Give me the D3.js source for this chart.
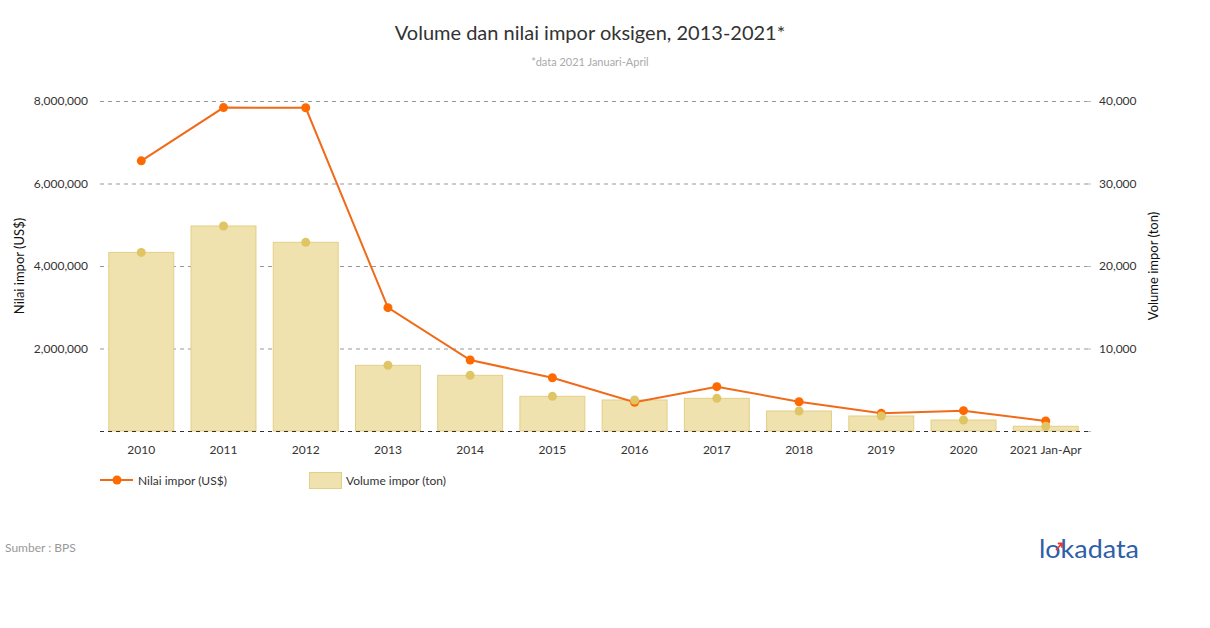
<!DOCTYPE html>
<html><head><meta charset="utf-8">
<script src="https://cdn.jsdelivr.net/npm/d3@7"></script>
<style>body{margin:0;background:#fff}svg{font-family:Lato,"Open Sans",sans-serif}</style>
</head><body>
<svg id="c" width="1210" height="628"></svg>
<script>
const categories = ["2010","2011","2012","2013","2014","2015","2016","2017","2018","2019","2020","2021 Jan-Apr"];
const nilaiImpor = [6550000,7840000,7835000,2990000,1720000,1290000,695000,1075000,710000,428000,493000,242000];
const volumeImpor = [21650,24850,22870,7960,6750,4200,3760,3960,2420,1820,1330,570];
const leftTicks = [2000000,4000000,6000000,8000000];
const rightTicks = [10000,20000,30000,40000];

const svg = d3.select("#c");
const plotTop = 101, plotBottom = 431, plotLeft = 100, plotRight = 1087;
const x = d3.scaleBand().domain(categories).range([plotLeft, plotRight]).paddingInner(0.198).paddingOuter(0.101);
const yL = d3.scaleLinear().domain([0, 8000000]).range([plotBottom, plotTop]);
const yR = d3.scaleLinear().domain([0, 40000]).range([plotBottom, plotTop]);
const fmt = d3.format(",");

// title
svg.append("text").attr("x", 590).attr("y", 40).attr("text-anchor","middle").attr("font-size",20).attr("fill","#333").text("Volume dan nilai impor oksigen, 2013-2021*");
svg.append("text").attr("x", 590).attr("y", 66).attr("text-anchor","middle").attr("font-size",11).attr("fill","#aaa").text("*data 2021 Januari-April");

// gridlines
svg.append("g").selectAll("line").data(leftTicks).join("line")
  .attr("x1", plotLeft).attr("x2", plotRight + 3).attr("y1", d => yL(d) + 0.5).attr("y2", d => yL(d) + 0.5)
  .attr("stroke","#999").attr("stroke-dasharray","4,4").attr("stroke-width",1);

// left axis
const gL = svg.append("g").attr("transform",`translate(${plotLeft},0)`)
  .call(d3.axisLeft(yL).tickValues(leftTicks).tickFormat(fmt).tickSize(0).tickPadding(12));
gL.select(".domain").remove();
gL.selectAll("text").attr("font-size",12).attr("fill","#333").attr("font-family","Lato");

// right axis
const gR = svg.append("g").attr("transform",`translate(${plotRight},0)`)
  .call(d3.axisRight(yR).tickValues([0].concat(rightTicks)).tickFormat(d => d === 0 ? "" : fmt(d)).tickSize(4).tickPadding(8));
gR.select(".domain").remove();
gR.selectAll("line").attr("stroke","#bbb");
gR.selectAll("text").attr("font-size",12).attr("fill","#333").attr("font-family","Lato");

// axis titles
svg.append("text").attr("transform","translate(24,266) rotate(-90)").attr("text-anchor","middle").attr("font-size",13).attr("fill","#111").text("Nilai impor (US$)");
svg.append("text").attr("transform","translate(1158,266) rotate(-90)").attr("text-anchor","middle").attr("font-size",13).attr("fill","#111").text("Volume impor (ton)");

// bars
svg.append("g").selectAll("rect").data(categories).join("rect")
  .attr("x", d => x(d) + 0.5).attr("width", x.bandwidth() - 1)
  .attr("y", (d,i) => yR(volumeImpor[i])).attr("height", (d,i) => plotBottom - yR(volumeImpor[i]))
  .attr("fill","#f0e2ae").attr("stroke","#e3cf85").attr("stroke-width",1);

// baseline
svg.append("line").attr("x1", plotLeft).attr("x2", plotRight + 3).attr("y1", plotBottom + 0.5).attr("y2", plotBottom + 0.5)
  .attr("stroke","#333").attr("stroke-dasharray","4,4");

// x axis labels
const gX = svg.append("g").attr("transform",`translate(0,${plotBottom})`)
  .call(d3.axisBottom(x).tickSize(0).tickPadding(14));
gX.select(".domain").remove();
gX.selectAll("text").attr("font-size",12).attr("fill","#333").attr("font-family","Lato");

// line
const cx = d => x(d) + x.bandwidth()/2;
const line = d3.line().x((d,i) => cx(categories[i])).y(d => yL(d));
svg.append("path").datum(nilaiImpor).attr("d", line).attr("fill","none").attr("stroke","#f06a1a").attr("stroke-width",2);
svg.append("g").selectAll("circle").data(nilaiImpor).join("circle")
  .attr("cx",(d,i) => cx(categories[i])).attr("cy", d => yL(d)).attr("r",4.5).attr("fill","#ff6a00");

// volume dots
svg.append("g").selectAll("circle").data(volumeImpor).join("circle")
  .attr("cx",(d,i) => cx(categories[i])).attr("cy", d => yR(d)).attr("r",4.5).attr("fill","#e0c565");

// legend
svg.append("line").attr("x1",100).attr("x2",133).attr("y1",480).attr("y2",480).attr("stroke","#f06a1a").attr("stroke-width",2);
svg.append("circle").attr("cx",117).attr("cy",480).attr("r",4.5).attr("fill","#ff6a00");
svg.append("text").attr("x",138).attr("y",484.5).attr("font-size",12).attr("fill","#333").text("Nilai impor (US$)");
svg.append("rect").attr("x",309.5).attr("y",472.5).attr("width",32).attr("height",16).attr("fill","#f0e2ae").attr("stroke","#e3cf85");
svg.append("text").attr("x",346).attr("y",484.5).attr("font-size",12).attr("fill","#333").text("Volume impor (ton)");

// source
svg.append("text").attr("x",5).attr("y",552).attr("font-size",12).attr("fill","#999").text("Sumber : BPS");

// logo
svg.append("text").attr("x",1039).attr("y",557.5).attr("font-size",25).attr("fill","#2f5fa8").attr("font-family","Lato")
  .attr("textLength",100).attr("lengthAdjust","spacingAndGlyphs").text("lokadata");
svg.append("path").attr("d","M1056.5,549.5 L1062,543.5 M1058.5,543.5 L1062,543.5 L1062,547").attr("fill","none").attr("stroke","#e53935").attr("stroke-width",1.8).attr("stroke-linecap","round");
</script>
</body></html>
